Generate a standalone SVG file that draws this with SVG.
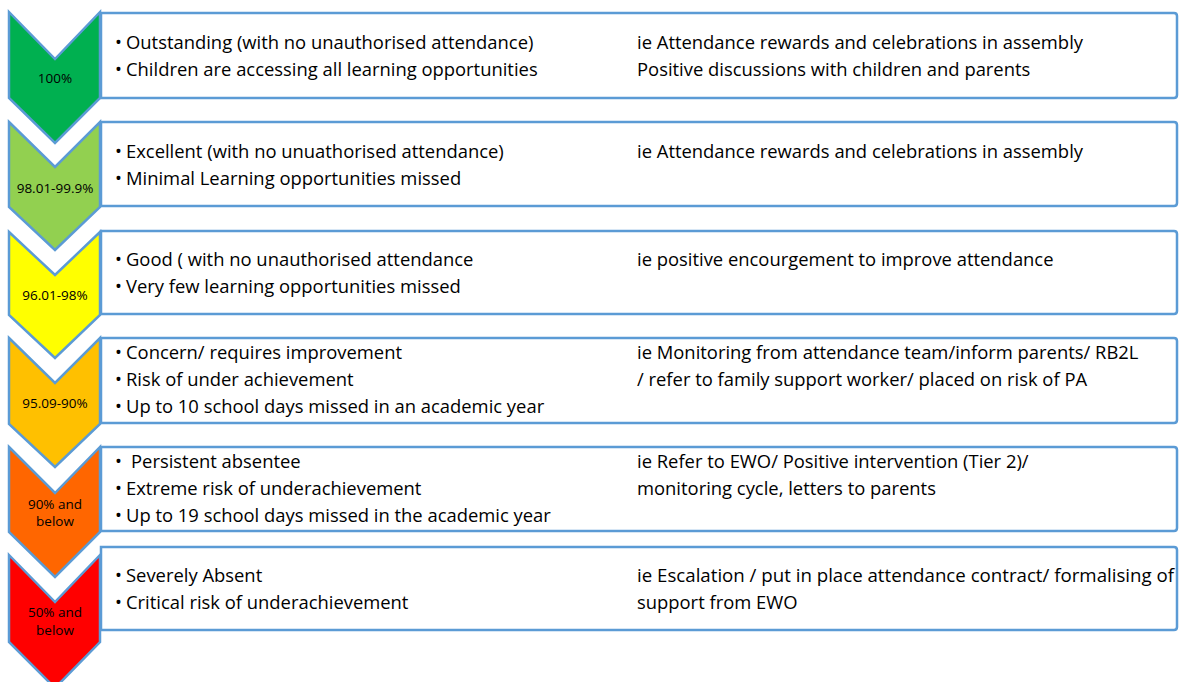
<svg xmlns="http://www.w3.org/2000/svg" width="1179" height="682" viewBox="0 0 1179 682">
<style>
.bg{fill:#ffffff}
.chev{stroke:#5B9BD5;stroke-width:2.5;stroke-linejoin:miter}
.box{fill:#ffffff;stroke:#5B9BD5;stroke-width:2.5}
.t{font-family:"Open Sans","Noto Sans","Liberation Sans",sans-serif;font-size:18.4px;fill:#000000}
.lbl{font-family:"Open Sans","Noto Sans","Liberation Sans",sans-serif;font-size:13.5px;fill:#000000;text-anchor:middle}
</style>
<rect class="bg" x="0" y="0" width="1179" height="682"/>
<g id="connectors"></g>

<g id="row-100">
<path class="chev" fill="#00B050" d="M9,12 L55,59 L100,12 L100,98 L55,143 L9,98 Z"/>
<text class="lbl" x="55" y="83">100%</text>
<path class="box" d="M101,13 H1174 Q1177,13 1177,16 V95 Q1177,98 1174,98 H101 Z"/>
<text class="t" x="115" y="48.5">•</text><text class="t" x="126" y="48.5">Outstanding (with no unauthorised attendance)</text>
<text class="t" x="115" y="75.5">•</text><text class="t" x="126" y="75.5">Children are accessing all learning opportunities</text>
<text class="t" x="637" y="48.5">ie Attendance rewards and celebrations in assembly</text>
<text class="t" x="637" y="75.5">Positive discussions with children and parents</text>
</g>

<g id="row-98">
<path class="chev" fill="#92D050" d="M9,122 L55,167 L100,122 L100,207 L55,250 L9,207 Z"/>
<text class="lbl" x="55" y="193">98.01-99.9%</text>
<path class="box" d="M101,122 H1174 Q1177,122 1177,125 V203 Q1177,206 1174,206 H101 Z"/>
<text class="t" x="115" y="157.5">•</text><text class="t" x="126" y="157.5">Excellent (with no unuathorised attendance)</text>
<text class="t" x="115" y="184.5">•</text><text class="t" x="126" y="184.5">Minimal Learning opportunities missed</text>
<text class="t" x="637" y="157.5">ie Attendance rewards and celebrations in assembly</text>
</g>

<g id="row-96">
<path class="chev" fill="#FFFF00" d="M9,232 L55,275 L100,232 L100,315 L55,358 L9,315 Z"/>
<text class="lbl" x="55" y="300">96.01-98%</text>
<path class="box" d="M101,231 H1174 Q1177,231 1177,234 V311 Q1177,314 1174,314 H101 Z"/>
<text class="t" x="115" y="265.5">•</text><text class="t" x="126" y="265.5">Good ( with no unauthorised attendance</text>
<text class="t" x="115" y="292.5">•</text><text class="t" x="126" y="292.5">Very few learning opportunities missed</text>
<text class="t" x="637" y="265.5">ie positive encourgement to improve attendance</text>
</g>

<g id="row-95">
<path class="chev" fill="#FFC000" d="M9,338 L55,383 L100,338 L100,424 L55,467 L9,424 Z"/>
<text class="lbl" x="55" y="408">95.09-90%</text>
<path class="box" d="M101,338 H1174 Q1177,338 1177,341 V420 Q1177,423 1174,423 H101 Z"/>
<text class="t" x="115" y="359">•</text><text class="t" x="126" y="359">Concern/ requires improvement</text>
<text class="t" x="115" y="386">•</text><text class="t" x="126" y="386">Risk of under achievement</text>
<text class="t" x="115" y="413">•</text><text class="t" x="126" y="413">Up to 10 school days missed in an academic year</text>
<text class="t" x="637" y="359">ie Monitoring from attendance team/inform parents/ RB2L</text>
<text class="t" x="637" y="386">/ refer to family support worker/ placed on risk of PA</text>
</g>

<g id="row-90">
<path class="chev" fill="#FF6600" d="M9,447 L55,493 L100,447 L100,532 L55,577 L9,532 Z"/>
<text class="lbl" x="55" y="509">90% and</text>
<text class="lbl" x="55" y="526">below</text>
<path class="box" d="M101,447 H1174 Q1177,447 1177,450 V528 Q1177,531 1174,531 H101 Z"/>
<text class="t" x="115" y="467.5">•</text><text class="t" x="131" y="467.5">Persistent absentee</text>
<text class="t" x="115" y="494.5">•</text><text class="t" x="126" y="494.5">Extreme risk of underachievement</text>
<text class="t" x="115" y="521.5">•</text><text class="t" x="126" y="521.5">Up to 19 school days missed in the academic year</text>
<text class="t" x="637" y="467.5">ie Refer to EWO/ Positive intervention (Tier 2)/</text>
<text class="t" x="637" y="494.5">monitoring cycle, letters to parents</text>
</g>

<g id="row-50">
<path class="chev" fill="#FF0000" d="M9,555 L55,602 L100,555 L100,642 L55,688 L9,642 Z"/>
<text class="lbl" x="55" y="617">50% and</text>
<text class="lbl" x="55" y="635">below</text>
<path class="box" d="M101,547 H1174 Q1177,547 1177,550 V627 Q1177,630 1174,630 H101 Z"/>
<text class="t" x="115" y="581.5">•</text><text class="t" x="126" y="581.5">Severely Absent</text>
<text class="t" x="115" y="608.5">•</text><text class="t" x="126" y="608.5">Critical risk of underachievement</text>
<text class="t" x="637" y="581.5" textLength="537" lengthAdjust="spacingAndGlyphs">ie Escalation / put in place attendance contract/ formalising of</text>
<text class="t" x="637" y="608.5">support from EWO</text>
</g>
</svg>
